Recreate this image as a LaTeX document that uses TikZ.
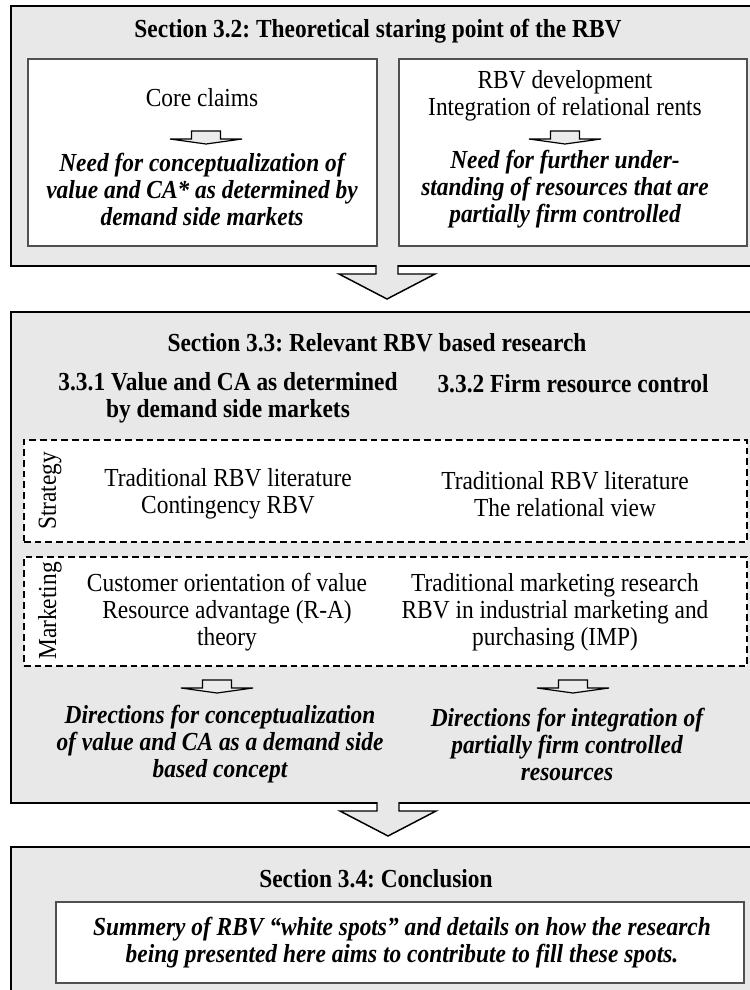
\documentclass[tikz,border=0pt]{standalone}
\usepackage{fontspec}
\setmainfont[FakeStretch=0.9]{Liberation Serif}
\usetikzlibrary{fit}
\frenchspacing

\definecolor{panelgray}{HTML}{E8E8E8}
\definecolor{arrowgray}{HTML}{EBEBEB}
\definecolor{framegray}{HTML}{505050}

\tikzset{
  outerbox/.style={draw=black, line width=1.5pt, fill=panelgray, inner sep=0pt},
  innerbox/.style={draw=framegray, line width=0.9pt, fill=white, inner sep=0pt},
  dashbox/.style={draw=black, line width=1.2pt, dash pattern=on 5pt off 3pt, fill=white, inner sep=0pt},
  txt/.style={font=\fontsize{19.5}{20.25}\selectfont, align=center, inner sep=0pt},
  head/.style={txt, font=\fontsize{19.5}{20.25}\selectfont\bfseries},
  claim/.style={txt, font=\fontsize{19.5}{20.25}\selectfont\bfseries\itshape},
  side/.style={txt, rotate=90},
  % small flat block arrow inside the panels
  smallarrow/.pic={
    \path[fill=arrowgray, draw=black, line width=0.9pt, line join=miter]
      (-14.5,0) -- (-14.5,8) -- (-36,8) -- (0,13) -- (36,8) -- (14.5,8) -- (14.5,0) -- cycle;
  },
  % large block arrow leaving the bottom edge of a panel
  bigarrow/.pic={
    \fill[panelgray] (-11,-1.6) -- (-11,8) -- (-48,8) -- (0,33) -- (48,8) -- (11,8) -- (11,-1.6) -- cycle;
    \draw[line width=1.1pt, line join=miter] (-11,-1) -- (-11,8) -- (-48,8) -- (0,33) -- (48,8) -- (11,8) -- (11,-1);
  },
}

\begin{document}
\begin{tikzpicture}[x=0.75pt, y=-0.75pt]
\useasboundingbox (0,0) rectangle (750,990);
\fill[white] (0,0) rectangle (750,990);

% ---------- Section 3.2 ----------
\node[outerbox, fit={(11,6) (753,266)}] (sec32) {};
\node[head] (t32) at (378,31) {Section 3.2: Theoretical staring point of the RBV};
\node[innerbox, fit={(28,59) (377,246)}] (corebox) {};
\node[innerbox, fit={(399,59) (747,246)}] (devbox) {};
\node[txt] (cc) at (202,98) {Core claims};
\node[claim] (need1) at (202,189) {Need for conceptualization of\\value and CA* as determined by\\demand side markets};
\node[txt] (rbvdev) at (565,96) {RBV development\\Integration of relational rents};
\node[claim] (need2) at (565,189) {Need for further under-\\standing of resources that are\\partially firm controlled};
\pic at (206,131) {smallarrow};
\pic at (565,131) {smallarrow};

\pic at (387,266) {bigarrow};

% ---------- Section 3.3 ----------
\node[outerbox, fit={(11,312) (753,803)}] (sec33) {};
\node[head] (t33) at (377,343) {Section 3.3: Relevant RBV based research};
\node[head] (h331) at (228,398) {3.3.1 Value and CA as determined\\by demand side markets};
\node[head] (h332) at (573,384) {3.3.2 Firm resource control};

\node[dashbox, fit={(24,440) (747,542)}] (strat) {};
\node[side] (stratlbl) at (50,491) {Strategy};
\node[txt] (s1) at (228,494) {Traditional RBV literature\\Contingency RBV};
\node[txt] (s2) at (565,494) {Traditional RBV literature\\The relational view};

\node[dashbox, fit={(24,557) (747,666)}] (mkt) {};
\node[side] (mktlbl) at (50,611) {Marketing};
\node[txt] (m1) at (227,612) {Customer orientation of value\\Resource advantage (R-A)\\theory};
\node[txt] (m2) at (555,612) {Traditional marketing research\\RBV in industrial marketing and\\purchasing (IMP)};

\pic at (217,680) {smallarrow};
\pic at (573,680) {smallarrow};
\node[claim] (dir1) at (220,744) {Directions for conceptualization\\of value and CA as a demand side\\based concept};
\node[claim] (dir2) at (567,744) {Directions for integration of\\partially firm controlled\\resources};

\pic at (388,803) {bigarrow};

% ---------- Section 3.4 ----------
\node[outerbox, fit={(11,847) (753,994)}] (sec34) {};
\node[head] (t34) at (376,879) {Section 3.4: Conclusion};
\node[innerbox, fit={(56,902) (744,983)}] (sumbox) {};
\node[claim] (sum) at (402,943) {Summery of RBV “white spots” and details on how the research\\being presented here aims to contribute to fill these spots.};
\end{tikzpicture}
\end{document}
